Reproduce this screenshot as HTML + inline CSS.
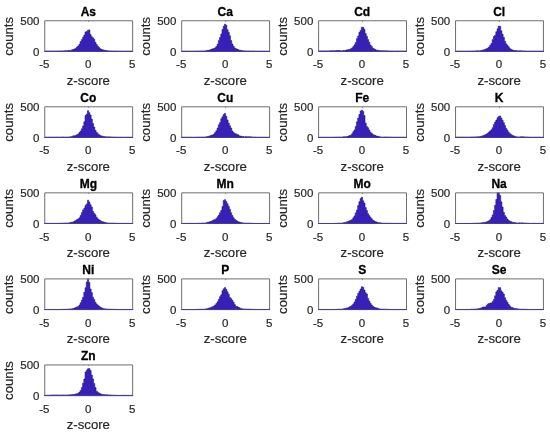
<!DOCTYPE html><html><head><meta charset="utf-8"><style>html,body{margin:0;padding:0;background:#fff;}svg{display:block;will-change:transform;}text{font-family:"Liberation Sans",sans-serif;stroke-width:0.2px;paint-order:stroke;}</style></head><body>
<svg width="550" height="434" viewBox="0 0 550 434">
<rect width="550" height="434" fill="#fff"/>
<g>
<rect width="550" height="434" fill="#fff"/>
<path d="M44.75,51.40 L44.75,51.18 L45.97,51.18 L45.97,51.13 L47.19,51.13 L47.19,51.16 L48.41,51.16 L48.41,51.12 L49.63,51.12 L49.63,51.12 L50.85,51.12 L50.85,51.20 L52.08,51.20 L52.08,51.21 L53.30,51.21 L53.30,51.08 L54.52,51.08 L54.52,51.17 L55.74,51.17 L55.74,51.18 L56.96,51.18 L56.96,51.06 L58.18,51.06 L58.18,51.11 L59.40,51.11 L59.40,50.99 L60.62,50.99 L60.62,51.00 L61.84,51.00 L61.84,50.91 L63.06,50.91 L63.06,50.96 L64.28,50.96 L64.28,50.81 L65.50,50.81 L65.50,50.70 L66.72,50.70 L66.72,50.72 L67.95,50.72 L67.95,50.57 L69.17,50.57 L69.17,50.43 L70.39,50.43 L70.39,50.44 L71.61,50.44 L71.61,49.80 L72.83,49.80 L72.83,49.40 L74.05,49.40 L74.05,48.92 L75.27,48.92 L75.27,48.37 L76.49,48.37 L76.49,47.08 L77.71,47.08 L77.71,46.00 L78.93,46.00 L78.93,44.23 L80.15,44.23 L80.15,41.39 L81.38,41.39 L81.38,39.47 L82.60,39.47 L82.60,37.26 L83.82,37.26 L83.82,35.05 L85.04,35.05 L85.04,31.99 L86.26,31.99 L86.26,31.53 L87.48,31.53 L87.48,30.13 L88.70,30.13 L88.70,29.90 L89.92,29.90 L89.92,34.42 L91.14,34.42 L91.14,36.69 L92.36,36.69 L92.36,37.81 L93.58,37.81 L93.58,39.34 L94.80,39.34 L94.80,42.31 L96.03,42.31 L96.03,44.42 L97.25,44.42 L97.25,46.28 L98.47,46.28 L98.47,47.59 L99.69,47.59 L99.69,48.72 L100.91,48.72 L100.91,49.34 L102.13,49.34 L102.13,49.76 L103.35,49.76 L103.35,50.17 L104.57,50.17 L104.57,50.35 L105.79,50.35 L105.79,50.61 L107.01,50.61 L107.01,50.76 L108.23,50.76 L108.23,50.89 L109.45,50.89 L109.45,50.93 L110.68,50.93 L110.68,51.02 L111.90,51.02 L111.90,51.14 L113.12,51.14 L113.12,51.06 L114.34,51.06 L114.34,51.08 L115.56,51.08 L115.56,51.12 L116.78,51.12 L116.78,51.20 L118.00,51.20 L118.00,51.21 L119.22,51.21 L119.22,51.28 L120.44,51.28 L120.44,51.21 L121.66,51.21 L121.66,51.24 L122.88,51.24 L122.88,51.27 L124.10,51.27 L124.10,51.30 L125.33,51.30 L125.33,51.21 L126.55,51.21 L126.55,51.19 L127.77,51.19 L127.77,51.29 L128.99,51.29 L128.99,51.21 L130.21,51.21 L130.21,51.26 L131.43,51.26 L131.43,51.29 L132.65,51.29 L132.65,51.40 Z" fill="#3720b8" stroke="#1c0c78" stroke-width="0.55" stroke-linejoin="miter"/>
<path d="M44.75,51.40 V20.75 H132.65 V51.40" fill="none" stroke="#6e6e6e" stroke-width="1"/>
<line x1="44.25" y1="51.40" x2="133.15" y2="51.40" stroke="#4a3a94" stroke-width="1"/>
<line x1="88.70" y1="20.75" x2="88.70" y2="21.95" stroke="#6e6e6e" stroke-width="0.8"/>
<text x="88.35" y="15.50" font-size="12.0" font-weight="bold" text-anchor="middle" fill="#000" stroke="#000" style="stroke-width:0.3px">As</text>
<text x="39.45" y="25.10" font-size="11.5" text-anchor="end" fill="#262626" stroke="#262626">500</text>
<text x="39.45" y="55.75" font-size="11.5" text-anchor="end" fill="#262626" stroke="#262626">0</text>
<text x="44.25" y="68.40" font-size="11.5" text-anchor="middle" fill="#262626" stroke="#262626">-5</text>
<text x="88.20" y="68.40" font-size="11.5" text-anchor="middle" fill="#262626" stroke="#262626">0</text>
<text x="132.15" y="68.40" font-size="11.5" text-anchor="middle" fill="#262626" stroke="#262626">5</text>
<text x="88.35" y="84.50" font-size="13.2" text-anchor="middle" fill="#262626" stroke="#262626">z-score</text>
<text transform="translate(12.95,36.32) rotate(-90)" x="0" y="0" font-size="13.2" text-anchor="middle" fill="#262626" stroke="#262626">counts</text>
<path d="M181.68,51.40 L181.68,51.24 L182.90,51.24 L182.90,51.26 L184.12,51.26 L184.12,51.24 L185.34,51.24 L185.34,51.28 L186.56,51.28 L186.56,51.21 L187.78,51.21 L187.78,51.21 L189.00,51.21 L189.00,51.23 L190.23,51.23 L190.23,51.29 L191.45,51.29 L191.45,51.24 L192.67,51.24 L192.67,51.27 L193.89,51.27 L193.89,51.28 L195.11,51.28 L195.11,51.16 L196.33,51.16 L196.33,51.10 L197.55,51.10 L197.55,51.20 L198.77,51.20 L198.77,51.02 L199.99,51.02 L199.99,51.02 L201.21,51.02 L201.21,51.01 L202.43,51.01 L202.43,50.99 L203.66,50.99 L203.66,50.93 L204.88,50.93 L204.88,50.95 L206.10,50.95 L206.10,50.60 L207.32,50.60 L207.32,50.36 L208.54,50.36 L208.54,50.28 L209.76,50.28 L209.76,49.78 L210.98,49.78 L210.98,49.27 L212.20,49.27 L212.20,48.85 L213.42,48.85 L213.42,48.60 L214.64,48.60 L214.64,47.86 L215.86,47.86 L215.86,46.50 L217.08,46.50 L217.08,44.15 L218.31,44.15 L218.31,40.43 L219.53,40.43 L219.53,37.51 L220.75,37.51 L220.75,34.04 L221.97,34.04 L221.97,29.54 L223.19,29.54 L223.19,26.31 L224.41,26.31 L224.41,24.18 L225.63,24.18 L225.63,25.28 L226.85,25.28 L226.85,29.68 L228.07,29.68 L228.07,32.18 L229.29,32.18 L229.29,35.73 L230.51,35.73 L230.51,40.54 L231.73,40.54 L231.73,43.97 L232.96,43.97 L232.96,46.20 L234.18,46.20 L234.18,47.91 L235.40,47.91 L235.40,48.66 L236.62,48.66 L236.62,49.12 L237.84,49.12 L237.84,49.69 L239.06,49.69 L239.06,50.23 L240.28,50.23 L240.28,50.36 L241.50,50.36 L241.50,50.72 L242.72,50.72 L242.72,50.77 L243.94,50.77 L243.94,50.95 L245.16,50.95 L245.16,50.95 L246.38,50.95 L246.38,51.09 L247.61,51.09 L247.61,51.00 L248.83,51.00 L248.83,51.15 L250.05,51.15 L250.05,51.17 L251.27,51.17 L251.27,51.10 L252.49,51.10 L252.49,51.11 L253.71,51.11 L253.71,51.21 L254.93,51.21 L254.93,51.25 L256.15,51.25 L256.15,51.28 L257.37,51.28 L257.37,51.27 L258.59,51.27 L258.59,51.23 L259.81,51.23 L259.81,51.28 L261.03,51.28 L261.03,51.29 L262.25,51.29 L262.25,51.25 L263.48,51.25 L263.48,51.29 L264.70,51.29 L264.70,51.23 L265.92,51.23 L265.92,51.21 L267.14,51.21 L267.14,51.21 L268.36,51.21 L268.36,51.25 L269.58,51.25 L269.58,51.40 Z" fill="#3720b8" stroke="#1c0c78" stroke-width="0.55" stroke-linejoin="miter"/>
<path d="M181.68,51.40 V20.75 H269.58 V51.40" fill="none" stroke="#6e6e6e" stroke-width="1"/>
<line x1="181.18" y1="51.40" x2="270.08" y2="51.40" stroke="#4a3a94" stroke-width="1"/>
<line x1="225.63" y1="20.75" x2="225.63" y2="21.95" stroke="#6e6e6e" stroke-width="0.8"/>
<text x="225.28" y="15.50" font-size="12.0" font-weight="bold" text-anchor="middle" fill="#000" stroke="#000" style="stroke-width:0.3px">Ca</text>
<text x="176.38" y="25.10" font-size="11.5" text-anchor="end" fill="#262626" stroke="#262626">500</text>
<text x="176.38" y="55.75" font-size="11.5" text-anchor="end" fill="#262626" stroke="#262626">0</text>
<text x="181.18" y="68.40" font-size="11.5" text-anchor="middle" fill="#262626" stroke="#262626">-5</text>
<text x="225.13" y="68.40" font-size="11.5" text-anchor="middle" fill="#262626" stroke="#262626">0</text>
<text x="269.08" y="68.40" font-size="11.5" text-anchor="middle" fill="#262626" stroke="#262626">5</text>
<text x="225.28" y="84.50" font-size="13.2" text-anchor="middle" fill="#262626" stroke="#262626">z-score</text>
<text transform="translate(149.88,36.32) rotate(-90)" x="0" y="0" font-size="13.2" text-anchor="middle" fill="#262626" stroke="#262626">counts</text>
<path d="M318.61,51.40 L318.61,51.08 L319.83,51.08 L319.83,51.00 L321.05,51.00 L321.05,50.94 L322.27,50.94 L322.27,51.04 L323.49,51.04 L323.49,50.92 L324.71,50.92 L324.71,50.91 L325.94,50.91 L325.94,50.89 L327.16,50.89 L327.16,50.98 L328.38,50.98 L328.38,50.97 L329.60,50.97 L329.60,50.87 L330.82,50.87 L330.82,50.76 L332.04,50.76 L332.04,50.84 L333.26,50.84 L333.26,50.74 L334.48,50.74 L334.48,50.75 L335.70,50.75 L335.70,50.57 L336.92,50.57 L336.92,50.51 L338.14,50.51 L338.14,50.62 L339.36,50.62 L339.36,50.59 L340.59,50.59 L340.59,50.93 L341.81,50.93 L341.81,50.79 L343.03,50.79 L343.03,50.57 L344.25,50.57 L344.25,50.52 L345.47,50.52 L345.47,50.11 L346.69,50.11 L346.69,49.90 L347.91,49.90 L347.91,49.43 L349.13,49.43 L349.13,49.43 L350.35,49.43 L350.35,48.74 L351.57,48.74 L351.57,47.95 L352.79,47.95 L352.79,46.60 L354.01,46.60 L354.01,44.87 L355.24,44.87 L355.24,42.47 L356.46,42.47 L356.46,38.57 L357.68,38.57 L357.68,36.02 L358.90,36.02 L358.90,32.30 L360.12,32.30 L360.12,30.38 L361.34,30.38 L361.34,27.31 L362.56,27.31 L362.56,27.31 L363.78,27.31 L363.78,29.37 L365.00,29.37 L365.00,33.61 L366.22,33.61 L366.22,36.21 L367.44,36.21 L367.44,39.57 L368.66,39.57 L368.66,42.25 L369.88,42.25 L369.88,45.00 L371.11,45.00 L371.11,46.43 L372.33,46.43 L372.33,48.24 L373.55,48.24 L373.55,48.86 L374.77,48.86 L374.77,49.55 L375.99,49.55 L375.99,50.13 L377.21,50.13 L377.21,50.35 L378.43,50.35 L378.43,50.43 L379.65,50.43 L379.65,50.75 L380.87,50.75 L380.87,50.87 L382.09,50.87 L382.09,50.78 L383.31,50.78 L383.31,50.71 L384.54,50.71 L384.54,50.89 L385.76,50.89 L385.76,50.85 L386.98,50.85 L386.98,50.91 L388.20,50.91 L388.20,50.96 L389.42,50.96 L389.42,51.09 L390.64,51.09 L390.64,51.04 L391.86,51.04 L391.86,51.05 L393.08,51.05 L393.08,51.16 L394.30,51.16 L394.30,51.16 L395.52,51.16 L395.52,51.07 L396.74,51.07 L396.74,51.12 L397.96,51.12 L397.96,51.17 L399.19,51.17 L399.19,51.21 L400.41,51.21 L400.41,51.10 L401.63,51.10 L401.63,51.16 L402.85,51.16 L402.85,51.14 L404.07,51.14 L404.07,51.17 L405.29,51.17 L405.29,51.12 L406.51,51.12 L406.51,51.40 Z" fill="#3720b8" stroke="#1c0c78" stroke-width="0.55" stroke-linejoin="miter"/>
<path d="M318.61,51.40 V20.75 H406.51 V51.40" fill="none" stroke="#6e6e6e" stroke-width="1"/>
<line x1="318.11" y1="51.40" x2="407.01" y2="51.40" stroke="#4a3a94" stroke-width="1"/>
<line x1="362.56" y1="20.75" x2="362.56" y2="21.95" stroke="#6e6e6e" stroke-width="0.8"/>
<text x="362.21" y="15.50" font-size="12.0" font-weight="bold" text-anchor="middle" fill="#000" stroke="#000" style="stroke-width:0.3px">Cd</text>
<text x="313.31" y="25.10" font-size="11.5" text-anchor="end" fill="#262626" stroke="#262626">500</text>
<text x="313.31" y="55.75" font-size="11.5" text-anchor="end" fill="#262626" stroke="#262626">0</text>
<text x="318.11" y="68.40" font-size="11.5" text-anchor="middle" fill="#262626" stroke="#262626">-5</text>
<text x="362.06" y="68.40" font-size="11.5" text-anchor="middle" fill="#262626" stroke="#262626">0</text>
<text x="406.01" y="68.40" font-size="11.5" text-anchor="middle" fill="#262626" stroke="#262626">5</text>
<text x="362.21" y="84.50" font-size="13.2" text-anchor="middle" fill="#262626" stroke="#262626">z-score</text>
<text transform="translate(286.81,36.32) rotate(-90)" x="0" y="0" font-size="13.2" text-anchor="middle" fill="#262626" stroke="#262626">counts</text>
<path d="M455.54,51.40 L455.54,51.22 L456.76,51.22 L456.76,51.21 L457.98,51.21 L457.98,51.28 L459.20,51.28 L459.20,51.19 L460.42,51.19 L460.42,51.28 L461.64,51.28 L461.64,51.23 L462.87,51.23 L462.87,51.29 L464.09,51.29 L464.09,51.22 L465.31,51.22 L465.31,51.29 L466.53,51.29 L466.53,51.22 L467.75,51.22 L467.75,51.22 L468.97,51.22 L468.97,51.19 L470.19,51.19 L470.19,51.19 L471.41,51.19 L471.41,51.08 L472.63,51.08 L472.63,51.01 L473.85,51.01 L473.85,51.11 L475.07,51.11 L475.07,50.99 L476.29,50.99 L476.29,50.86 L477.52,50.86 L477.52,50.87 L478.74,50.87 L478.74,50.88 L479.96,50.88 L479.96,50.72 L481.18,50.72 L481.18,50.23 L482.40,50.23 L482.40,50.20 L483.62,50.20 L483.62,49.66 L484.84,49.66 L484.84,49.15 L486.06,49.15 L486.06,48.85 L487.28,48.85 L487.28,48.09 L488.50,48.09 L488.50,46.90 L489.72,46.90 L489.72,45.26 L490.94,45.26 L490.94,43.45 L492.17,43.45 L492.17,39.64 L493.39,39.64 L493.39,36.60 L494.61,36.60 L494.61,35.14 L495.83,35.14 L495.83,31.70 L497.05,31.70 L497.05,28.85 L498.27,28.85 L498.27,26.08 L499.49,26.08 L499.49,26.42 L500.71,26.42 L500.71,30.74 L501.93,30.74 L501.93,34.26 L503.15,34.26 L503.15,37.30 L504.37,37.30 L504.37,41.19 L505.59,41.19 L505.59,43.73 L506.82,43.73 L506.82,45.32 L508.04,45.32 L508.04,46.82 L509.26,46.82 L509.26,48.58 L510.48,48.58 L510.48,49.19 L511.70,49.19 L511.70,49.92 L512.92,49.92 L512.92,50.27 L514.14,50.27 L514.14,50.50 L515.36,50.50 L515.36,50.60 L516.58,50.60 L516.58,50.68 L517.80,50.68 L517.80,50.97 L519.02,50.97 L519.02,50.83 L520.24,50.83 L520.24,50.78 L521.47,50.78 L521.47,50.88 L522.69,50.88 L522.69,50.97 L523.91,50.97 L523.91,51.08 L525.13,51.08 L525.13,51.06 L526.35,51.06 L526.35,51.16 L527.57,51.16 L527.57,51.15 L528.79,51.15 L528.79,51.20 L530.01,51.20 L530.01,51.26 L531.23,51.26 L531.23,51.21 L532.45,51.21 L532.45,51.26 L533.67,51.26 L533.67,51.25 L534.89,51.25 L534.89,51.21 L536.12,51.21 L536.12,51.28 L537.34,51.28 L537.34,51.28 L538.56,51.28 L538.56,51.24 L539.78,51.24 L539.78,51.25 L541.00,51.25 L541.00,51.20 L542.22,51.20 L542.22,51.28 L543.44,51.28 L543.44,51.40 Z" fill="#3720b8" stroke="#1c0c78" stroke-width="0.55" stroke-linejoin="miter"/>
<path d="M455.54,51.40 V20.75 H543.44 V51.40" fill="none" stroke="#6e6e6e" stroke-width="1"/>
<line x1="455.04" y1="51.40" x2="543.94" y2="51.40" stroke="#4a3a94" stroke-width="1"/>
<line x1="499.49" y1="20.75" x2="499.49" y2="21.95" stroke="#6e6e6e" stroke-width="0.8"/>
<text x="499.14" y="15.50" font-size="12.0" font-weight="bold" text-anchor="middle" fill="#000" stroke="#000" style="stroke-width:0.3px">Cl</text>
<text x="450.24" y="25.10" font-size="11.5" text-anchor="end" fill="#262626" stroke="#262626">500</text>
<text x="450.24" y="55.75" font-size="11.5" text-anchor="end" fill="#262626" stroke="#262626">0</text>
<text x="455.04" y="68.40" font-size="11.5" text-anchor="middle" fill="#262626" stroke="#262626">-5</text>
<text x="498.99" y="68.40" font-size="11.5" text-anchor="middle" fill="#262626" stroke="#262626">0</text>
<text x="542.94" y="68.40" font-size="11.5" text-anchor="middle" fill="#262626" stroke="#262626">5</text>
<text x="499.14" y="84.50" font-size="13.2" text-anchor="middle" fill="#262626" stroke="#262626">z-score</text>
<text transform="translate(423.74,36.32) rotate(-90)" x="0" y="0" font-size="13.2" text-anchor="middle" fill="#262626" stroke="#262626">counts</text>
<path d="M44.75,137.45 L44.75,137.22 L45.97,137.22 L45.97,137.21 L47.19,137.21 L47.19,137.16 L48.41,137.16 L48.41,137.11 L49.63,137.11 L49.63,137.20 L50.85,137.20 L50.85,137.20 L52.08,137.20 L52.08,137.18 L53.30,137.18 L53.30,137.10 L54.52,137.10 L54.52,137.20 L55.74,137.20 L55.74,137.10 L56.96,137.10 L56.96,137.11 L58.18,137.11 L58.18,137.19 L59.40,137.19 L59.40,137.12 L60.62,137.12 L60.62,137.12 L61.84,137.12 L61.84,137.12 L63.06,137.12 L63.06,137.01 L64.28,137.01 L64.28,137.16 L65.50,137.16 L65.50,137.16 L66.72,137.16 L66.72,136.99 L67.95,136.99 L67.95,137.08 L69.17,137.08 L69.17,136.92 L70.39,136.92 L70.39,136.65 L71.61,136.65 L71.61,136.40 L72.83,136.40 L72.83,135.85 L74.05,135.85 L74.05,135.76 L75.27,135.76 L75.27,135.40 L76.49,135.40 L76.49,134.65 L77.71,134.65 L77.71,133.98 L78.93,133.98 L78.93,132.50 L80.15,132.50 L80.15,130.92 L81.38,130.92 L81.38,128.77 L82.60,128.77 L82.60,125.91 L83.82,125.91 L83.82,121.82 L85.04,121.82 L85.04,115.54 L86.26,115.54 L86.26,114.08 L87.48,114.08 L87.48,110.68 L88.70,110.68 L88.70,112.65 L89.92,112.65 L89.92,115.01 L91.14,115.01 L91.14,119.09 L92.36,119.09 L92.36,123.49 L93.58,123.49 L93.58,127.06 L94.80,127.06 L94.80,130.32 L96.03,130.32 L96.03,132.15 L97.25,132.15 L97.25,133.63 L98.47,133.63 L98.47,134.74 L99.69,134.74 L99.69,135.40 L100.91,135.40 L100.91,135.91 L102.13,135.91 L102.13,136.25 L103.35,136.25 L103.35,136.54 L104.57,136.54 L104.57,136.72 L105.79,136.72 L105.79,136.86 L107.01,136.86 L107.01,136.94 L108.23,136.94 L108.23,136.83 L109.45,136.83 L109.45,136.89 L110.68,136.89 L110.68,137.03 L111.90,137.03 L111.90,137.09 L113.12,137.09 L113.12,137.05 L114.34,137.05 L114.34,137.11 L115.56,137.11 L115.56,137.13 L116.78,137.13 L116.78,137.26 L118.00,137.26 L118.00,137.28 L119.22,137.28 L119.22,137.19 L120.44,137.19 L120.44,137.23 L121.66,137.23 L121.66,137.22 L122.88,137.22 L122.88,137.30 L124.10,137.30 L124.10,137.26 L125.33,137.26 L125.33,137.19 L126.55,137.19 L126.55,137.23 L127.77,137.23 L127.77,137.18 L128.99,137.18 L128.99,137.29 L130.21,137.29 L130.21,137.25 L131.43,137.25 L131.43,137.21 L132.65,137.21 L132.65,137.45 Z" fill="#3720b8" stroke="#1c0c78" stroke-width="0.55" stroke-linejoin="miter"/>
<path d="M44.75,137.45 V106.80 H132.65 V137.45" fill="none" stroke="#6e6e6e" stroke-width="1"/>
<line x1="44.25" y1="137.45" x2="133.15" y2="137.45" stroke="#4a3a94" stroke-width="1"/>
<line x1="88.70" y1="106.80" x2="88.70" y2="108.00" stroke="#6e6e6e" stroke-width="0.8"/>
<text x="88.35" y="101.55" font-size="12.0" font-weight="bold" text-anchor="middle" fill="#000" stroke="#000" style="stroke-width:0.3px">Co</text>
<text x="39.45" y="111.15" font-size="11.5" text-anchor="end" fill="#262626" stroke="#262626">500</text>
<text x="39.45" y="141.80" font-size="11.5" text-anchor="end" fill="#262626" stroke="#262626">0</text>
<text x="44.25" y="154.45" font-size="11.5" text-anchor="middle" fill="#262626" stroke="#262626">-5</text>
<text x="88.20" y="154.45" font-size="11.5" text-anchor="middle" fill="#262626" stroke="#262626">0</text>
<text x="132.15" y="154.45" font-size="11.5" text-anchor="middle" fill="#262626" stroke="#262626">5</text>
<text x="88.35" y="170.55" font-size="13.2" text-anchor="middle" fill="#262626" stroke="#262626">z-score</text>
<text transform="translate(12.95,122.36) rotate(-90)" x="0" y="0" font-size="13.2" text-anchor="middle" fill="#262626" stroke="#262626">counts</text>
<path d="M181.68,137.45 L181.68,137.23 L182.90,137.23 L182.90,137.26 L184.12,137.26 L184.12,137.22 L185.34,137.22 L185.34,137.31 L186.56,137.31 L186.56,137.22 L187.78,137.22 L187.78,137.26 L189.00,137.26 L189.00,137.23 L190.23,137.23 L190.23,137.29 L191.45,137.29 L191.45,137.27 L192.67,137.27 L192.67,137.28 L193.89,137.28 L193.89,137.27 L195.11,137.27 L195.11,137.20 L196.33,137.20 L196.33,137.22 L197.55,137.22 L197.55,137.12 L198.77,137.12 L198.77,137.15 L199.99,137.15 L199.99,137.19 L201.21,137.19 L201.21,137.10 L202.43,137.10 L202.43,137.09 L203.66,137.09 L203.66,137.14 L204.88,137.14 L204.88,136.94 L206.10,136.94 L206.10,136.78 L207.32,136.78 L207.32,136.44 L208.54,136.44 L208.54,136.15 L209.76,136.15 L209.76,135.80 L210.98,135.80 L210.98,135.21 L212.20,135.21 L212.20,134.90 L213.42,134.90 L213.42,134.12 L214.64,134.12 L214.64,132.59 L215.86,132.59 L215.86,130.74 L217.08,130.74 L217.08,128.02 L218.31,128.02 L218.31,124.78 L219.53,124.78 L219.53,122.62 L220.75,122.62 L220.75,118.73 L221.97,118.73 L221.97,116.73 L223.19,116.73 L223.19,114.55 L224.41,114.55 L224.41,113.40 L225.63,113.40 L225.63,116.34 L226.85,116.34 L226.85,120.02 L228.07,120.02 L228.07,123.08 L229.29,123.08 L229.29,125.85 L230.51,125.85 L230.51,128.05 L231.73,128.05 L231.73,130.92 L232.96,130.92 L232.96,132.51 L234.18,132.51 L234.18,133.56 L235.40,133.56 L235.40,133.75 L236.62,133.75 L236.62,134.47 L237.84,134.47 L237.84,134.89 L239.06,134.89 L239.06,135.99 L240.28,135.99 L240.28,136.05 L241.50,136.05 L241.50,136.44 L242.72,136.44 L242.72,136.54 L243.94,136.54 L243.94,136.89 L245.16,136.89 L245.16,136.61 L246.38,136.61 L246.38,136.78 L247.61,136.78 L247.61,136.69 L248.83,136.69 L248.83,136.83 L250.05,136.83 L250.05,136.85 L251.27,136.85 L251.27,136.99 L252.49,136.99 L252.49,137.10 L253.71,137.10 L253.71,137.08 L254.93,137.08 L254.93,137.15 L256.15,137.15 L256.15,137.29 L257.37,137.29 L257.37,137.30 L258.59,137.30 L258.59,137.26 L259.81,137.26 L259.81,137.23 L261.03,137.23 L261.03,137.29 L262.25,137.29 L262.25,137.24 L263.48,137.24 L263.48,137.24 L264.70,137.24 L264.70,137.21 L265.92,137.21 L265.92,137.30 L267.14,137.30 L267.14,137.30 L268.36,137.30 L268.36,137.25 L269.58,137.25 L269.58,137.45 Z" fill="#3720b8" stroke="#1c0c78" stroke-width="0.55" stroke-linejoin="miter"/>
<path d="M181.68,137.45 V106.80 H269.58 V137.45" fill="none" stroke="#6e6e6e" stroke-width="1"/>
<line x1="181.18" y1="137.45" x2="270.08" y2="137.45" stroke="#4a3a94" stroke-width="1"/>
<line x1="225.63" y1="106.80" x2="225.63" y2="108.00" stroke="#6e6e6e" stroke-width="0.8"/>
<text x="225.28" y="101.55" font-size="12.0" font-weight="bold" text-anchor="middle" fill="#000" stroke="#000" style="stroke-width:0.3px">Cu</text>
<text x="176.38" y="111.15" font-size="11.5" text-anchor="end" fill="#262626" stroke="#262626">500</text>
<text x="176.38" y="141.80" font-size="11.5" text-anchor="end" fill="#262626" stroke="#262626">0</text>
<text x="181.18" y="154.45" font-size="11.5" text-anchor="middle" fill="#262626" stroke="#262626">-5</text>
<text x="225.13" y="154.45" font-size="11.5" text-anchor="middle" fill="#262626" stroke="#262626">0</text>
<text x="269.08" y="154.45" font-size="11.5" text-anchor="middle" fill="#262626" stroke="#262626">5</text>
<text x="225.28" y="170.55" font-size="13.2" text-anchor="middle" fill="#262626" stroke="#262626">z-score</text>
<text transform="translate(149.88,122.36) rotate(-90)" x="0" y="0" font-size="13.2" text-anchor="middle" fill="#262626" stroke="#262626">counts</text>
<path d="M318.61,137.45 L318.61,137.28 L319.83,137.28 L319.83,137.25 L321.05,137.25 L321.05,137.30 L322.27,137.30 L322.27,137.27 L323.49,137.27 L323.49,137.30 L324.71,137.30 L324.71,137.31 L325.94,137.31 L325.94,137.28 L327.16,137.28 L327.16,137.30 L328.38,137.30 L328.38,137.27 L329.60,137.27 L329.60,137.22 L330.82,137.22 L330.82,137.31 L332.04,137.31 L332.04,137.22 L333.26,137.22 L333.26,137.27 L334.48,137.27 L334.48,137.15 L335.70,137.15 L335.70,137.13 L336.92,137.13 L336.92,137.19 L338.14,137.19 L338.14,137.06 L339.36,137.06 L339.36,137.06 L340.59,137.06 L340.59,137.16 L341.81,137.16 L341.81,137.04 L343.03,137.04 L343.03,136.86 L344.25,136.86 L344.25,136.68 L345.47,136.68 L345.47,136.70 L346.69,136.70 L346.69,136.45 L347.91,136.45 L347.91,136.03 L349.13,136.03 L349.13,135.51 L350.35,135.51 L350.35,135.15 L351.57,135.15 L351.57,133.81 L352.79,133.81 L352.79,131.78 L354.01,131.78 L354.01,129.98 L355.24,129.98 L355.24,126.43 L356.46,126.43 L356.46,121.80 L357.68,121.80 L357.68,118.11 L358.90,118.11 L358.90,114.50 L360.12,114.50 L360.12,110.88 L361.34,110.88 L361.34,110.25 L362.56,110.25 L362.56,111.39 L363.78,111.39 L363.78,115.51 L365.00,115.51 L365.00,123.04 L366.22,123.04 L366.22,126.39 L367.44,126.39 L367.44,127.71 L368.66,127.71 L368.66,129.90 L369.88,129.90 L369.88,132.20 L371.11,132.20 L371.11,133.25 L372.33,133.25 L372.33,134.60 L373.55,134.60 L373.55,134.96 L374.77,134.96 L374.77,135.52 L375.99,135.52 L375.99,136.03 L377.21,136.03 L377.21,136.35 L378.43,136.35 L378.43,136.53 L379.65,136.53 L379.65,136.94 L380.87,136.94 L380.87,137.07 L382.09,137.07 L382.09,137.13 L383.31,137.13 L383.31,137.07 L384.54,137.07 L384.54,136.97 L385.76,136.97 L385.76,137.01 L386.98,137.01 L386.98,137.12 L388.20,137.12 L388.20,137.02 L389.42,137.02 L389.42,137.10 L390.64,137.10 L390.64,137.17 L391.86,137.17 L391.86,137.26 L393.08,137.26 L393.08,137.27 L394.30,137.27 L394.30,137.29 L395.52,137.29 L395.52,137.23 L396.74,137.23 L396.74,137.31 L397.96,137.31 L397.96,137.19 L399.19,137.19 L399.19,137.30 L400.41,137.30 L400.41,137.23 L401.63,137.23 L401.63,137.24 L402.85,137.24 L402.85,137.27 L404.07,137.27 L404.07,137.28 L405.29,137.28 L405.29,137.26 L406.51,137.26 L406.51,137.45 Z" fill="#3720b8" stroke="#1c0c78" stroke-width="0.55" stroke-linejoin="miter"/>
<path d="M318.61,137.45 V106.80 H406.51 V137.45" fill="none" stroke="#6e6e6e" stroke-width="1"/>
<line x1="318.11" y1="137.45" x2="407.01" y2="137.45" stroke="#4a3a94" stroke-width="1"/>
<line x1="362.56" y1="106.80" x2="362.56" y2="108.00" stroke="#6e6e6e" stroke-width="0.8"/>
<text x="362.21" y="101.55" font-size="12.0" font-weight="bold" text-anchor="middle" fill="#000" stroke="#000" style="stroke-width:0.3px">Fe</text>
<text x="313.31" y="111.15" font-size="11.5" text-anchor="end" fill="#262626" stroke="#262626">500</text>
<text x="313.31" y="141.80" font-size="11.5" text-anchor="end" fill="#262626" stroke="#262626">0</text>
<text x="318.11" y="154.45" font-size="11.5" text-anchor="middle" fill="#262626" stroke="#262626">-5</text>
<text x="362.06" y="154.45" font-size="11.5" text-anchor="middle" fill="#262626" stroke="#262626">0</text>
<text x="406.01" y="154.45" font-size="11.5" text-anchor="middle" fill="#262626" stroke="#262626">5</text>
<text x="362.21" y="170.55" font-size="13.2" text-anchor="middle" fill="#262626" stroke="#262626">z-score</text>
<text transform="translate(286.81,122.36) rotate(-90)" x="0" y="0" font-size="13.2" text-anchor="middle" fill="#262626" stroke="#262626">counts</text>
<path d="M455.54,137.45 L455.54,137.06 L456.76,137.06 L456.76,137.22 L457.98,137.22 L457.98,137.10 L459.20,137.10 L459.20,137.14 L460.42,137.14 L460.42,137.07 L461.64,137.07 L461.64,137.16 L462.87,137.16 L462.87,137.07 L464.09,137.07 L464.09,137.20 L465.31,137.20 L465.31,137.06 L466.53,137.06 L466.53,137.15 L467.75,137.15 L467.75,137.19 L468.97,137.19 L468.97,137.14 L470.19,137.14 L470.19,137.02 L471.41,137.02 L471.41,137.08 L472.63,137.08 L472.63,136.95 L473.85,136.95 L473.85,136.98 L475.07,136.98 L475.07,136.91 L476.29,136.91 L476.29,136.85 L477.52,136.85 L477.52,136.80 L478.74,136.80 L478.74,136.76 L479.96,136.76 L479.96,136.41 L481.18,136.41 L481.18,136.21 L482.40,136.21 L482.40,135.70 L483.62,135.70 L483.62,135.21 L484.84,135.21 L484.84,134.73 L486.06,134.73 L486.06,133.89 L487.28,133.89 L487.28,133.24 L488.50,133.24 L488.50,132.12 L489.72,132.12 L489.72,130.89 L490.94,130.89 L490.94,129.67 L492.17,129.67 L492.17,127.69 L493.39,127.69 L493.39,124.51 L494.61,124.51 L494.61,122.05 L495.83,122.05 L495.83,120.04 L497.05,120.04 L497.05,117.71 L498.27,117.71 L498.27,116.45 L499.49,116.45 L499.49,115.90 L500.71,115.90 L500.71,117.99 L501.93,117.99 L501.93,120.23 L503.15,120.23 L503.15,122.67 L504.37,122.67 L504.37,125.52 L505.59,125.52 L505.59,128.44 L506.82,128.44 L506.82,130.20 L508.04,130.20 L508.04,132.14 L509.26,132.14 L509.26,133.41 L510.48,133.41 L510.48,134.58 L511.70,134.58 L511.70,135.28 L512.92,135.28 L512.92,135.86 L514.14,135.86 L514.14,136.32 L515.36,136.32 L515.36,136.63 L516.58,136.63 L516.58,136.90 L517.80,136.90 L517.80,137.02 L519.02,137.02 L519.02,136.98 L520.24,136.98 L520.24,136.82 L521.47,136.82 L521.47,136.80 L522.69,136.80 L522.69,136.85 L523.91,136.85 L523.91,137.05 L525.13,137.05 L525.13,136.95 L526.35,136.95 L526.35,137.03 L527.57,137.03 L527.57,137.11 L528.79,137.11 L528.79,137.22 L530.01,137.22 L530.01,137.19 L531.23,137.19 L531.23,137.21 L532.45,137.21 L532.45,137.28 L533.67,137.28 L533.67,137.22 L534.89,137.22 L534.89,137.20 L536.12,137.20 L536.12,137.21 L537.34,137.21 L537.34,137.19 L538.56,137.19 L538.56,137.24 L539.78,137.24 L539.78,137.22 L541.00,137.22 L541.00,137.30 L542.22,137.30 L542.22,137.23 L543.44,137.23 L543.44,137.45 Z" fill="#3720b8" stroke="#1c0c78" stroke-width="0.55" stroke-linejoin="miter"/>
<path d="M455.54,137.45 V106.80 H543.44 V137.45" fill="none" stroke="#6e6e6e" stroke-width="1"/>
<line x1="455.04" y1="137.45" x2="543.94" y2="137.45" stroke="#4a3a94" stroke-width="1"/>
<line x1="499.49" y1="106.80" x2="499.49" y2="108.00" stroke="#6e6e6e" stroke-width="0.8"/>
<text x="499.14" y="101.55" font-size="12.0" font-weight="bold" text-anchor="middle" fill="#000" stroke="#000" style="stroke-width:0.3px">K</text>
<text x="450.24" y="111.15" font-size="11.5" text-anchor="end" fill="#262626" stroke="#262626">500</text>
<text x="450.24" y="141.80" font-size="11.5" text-anchor="end" fill="#262626" stroke="#262626">0</text>
<text x="455.04" y="154.45" font-size="11.5" text-anchor="middle" fill="#262626" stroke="#262626">-5</text>
<text x="498.99" y="154.45" font-size="11.5" text-anchor="middle" fill="#262626" stroke="#262626">0</text>
<text x="542.94" y="154.45" font-size="11.5" text-anchor="middle" fill="#262626" stroke="#262626">5</text>
<text x="499.14" y="170.55" font-size="13.2" text-anchor="middle" fill="#262626" stroke="#262626">z-score</text>
<text transform="translate(423.74,122.36) rotate(-90)" x="0" y="0" font-size="13.2" text-anchor="middle" fill="#262626" stroke="#262626">counts</text>
<path d="M44.75,223.50 L44.75,223.39 L45.97,223.39 L45.97,223.31 L47.19,223.31 L47.19,223.31 L48.41,223.31 L48.41,223.41 L49.63,223.41 L49.63,223.32 L50.85,223.32 L50.85,223.34 L52.08,223.34 L52.08,223.34 L53.30,223.34 L53.30,223.41 L54.52,223.41 L54.52,223.32 L55.74,223.32 L55.74,223.37 L56.96,223.37 L56.96,223.32 L58.18,223.32 L58.18,223.33 L59.40,223.33 L59.40,223.25 L60.62,223.25 L60.62,223.20 L61.84,223.20 L61.84,223.22 L63.06,223.22 L63.06,223.12 L64.28,223.12 L64.28,223.01 L65.50,223.01 L65.50,222.98 L66.72,222.98 L66.72,222.96 L67.95,222.96 L67.95,223.06 L69.17,223.06 L69.17,222.73 L70.39,222.73 L70.39,222.35 L71.61,222.35 L71.61,222.15 L72.83,222.15 L72.83,221.90 L74.05,221.90 L74.05,221.07 L75.27,221.07 L75.27,220.54 L76.49,220.54 L76.49,219.57 L77.71,219.57 L77.71,218.95 L78.93,218.95 L78.93,217.84 L80.15,217.84 L80.15,215.52 L81.38,215.52 L81.38,212.49 L82.60,212.49 L82.60,209.95 L83.82,209.95 L83.82,208.13 L85.04,208.13 L85.04,205.43 L86.26,205.43 L86.26,203.89 L87.48,203.89 L87.48,200.20 L88.70,200.20 L88.70,202.04 L89.92,202.04 L89.92,204.68 L91.14,204.68 L91.14,207.01 L92.36,207.01 L92.36,211.31 L93.58,211.31 L93.58,213.25 L94.80,213.25 L94.80,214.87 L96.03,214.87 L96.03,217.31 L97.25,217.31 L97.25,218.86 L98.47,218.86 L98.47,219.85 L99.69,219.85 L99.69,220.47 L100.91,220.47 L100.91,221.47 L102.13,221.47 L102.13,221.72 L103.35,221.72 L103.35,222.10 L104.57,222.10 L104.57,222.48 L105.79,222.48 L105.79,222.79 L107.01,222.79 L107.01,222.96 L108.23,222.96 L108.23,222.99 L109.45,222.99 L109.45,223.10 L110.68,223.10 L110.68,223.11 L111.90,223.11 L111.90,223.11 L113.12,223.11 L113.12,223.03 L114.34,223.03 L114.34,223.16 L115.56,223.16 L115.56,223.19 L116.78,223.19 L116.78,223.26 L118.00,223.26 L118.00,223.34 L119.22,223.34 L119.22,223.34 L120.44,223.34 L120.44,223.36 L121.66,223.36 L121.66,223.36 L122.88,223.36 L122.88,223.33 L124.10,223.33 L124.10,223.37 L125.33,223.37 L125.33,223.41 L126.55,223.41 L126.55,223.31 L127.77,223.31 L127.77,223.37 L128.99,223.37 L128.99,223.37 L130.21,223.37 L130.21,223.40 L131.43,223.40 L131.43,223.35 L132.65,223.35 L132.65,223.50 Z" fill="#3720b8" stroke="#1c0c78" stroke-width="0.55" stroke-linejoin="miter"/>
<path d="M44.75,223.50 V192.85 H132.65 V223.50" fill="none" stroke="#6e6e6e" stroke-width="1"/>
<line x1="44.25" y1="223.50" x2="133.15" y2="223.50" stroke="#4a3a94" stroke-width="1"/>
<line x1="88.70" y1="192.85" x2="88.70" y2="194.05" stroke="#6e6e6e" stroke-width="0.8"/>
<text x="88.35" y="187.60" font-size="12.0" font-weight="bold" text-anchor="middle" fill="#000" stroke="#000" style="stroke-width:0.3px">Mg</text>
<text x="39.45" y="197.20" font-size="11.5" text-anchor="end" fill="#262626" stroke="#262626">500</text>
<text x="39.45" y="227.85" font-size="11.5" text-anchor="end" fill="#262626" stroke="#262626">0</text>
<text x="44.25" y="240.50" font-size="11.5" text-anchor="middle" fill="#262626" stroke="#262626">-5</text>
<text x="88.20" y="240.50" font-size="11.5" text-anchor="middle" fill="#262626" stroke="#262626">0</text>
<text x="132.15" y="240.50" font-size="11.5" text-anchor="middle" fill="#262626" stroke="#262626">5</text>
<text x="88.35" y="256.60" font-size="13.2" text-anchor="middle" fill="#262626" stroke="#262626">z-score</text>
<text transform="translate(12.95,208.42) rotate(-90)" x="0" y="0" font-size="13.2" text-anchor="middle" fill="#262626" stroke="#262626">counts</text>
<path d="M181.68,223.50 L181.68,223.41 L182.90,223.41 L182.90,223.37 L184.12,223.37 L184.12,223.39 L185.34,223.39 L185.34,223.37 L186.56,223.37 L186.56,223.39 L187.78,223.39 L187.78,223.32 L189.00,223.32 L189.00,223.35 L190.23,223.35 L190.23,223.33 L191.45,223.33 L191.45,223.31 L192.67,223.31 L192.67,223.36 L193.89,223.36 L193.89,223.36 L195.11,223.36 L195.11,223.38 L196.33,223.38 L196.33,223.25 L197.55,223.25 L197.55,223.31 L198.77,223.31 L198.77,223.22 L199.99,223.22 L199.99,223.21 L201.21,223.21 L201.21,223.06 L202.43,223.06 L202.43,223.07 L203.66,223.07 L203.66,223.04 L204.88,223.04 L204.88,223.06 L206.10,223.06 L206.10,222.65 L207.32,222.65 L207.32,222.18 L208.54,222.18 L208.54,222.01 L209.76,222.01 L209.76,221.44 L210.98,221.44 L210.98,221.13 L212.20,221.13 L212.20,220.51 L213.42,220.51 L213.42,219.74 L214.64,219.74 L214.64,219.40 L215.86,219.40 L215.86,218.47 L217.08,218.47 L217.08,216.87 L218.31,216.87 L218.31,215.04 L219.53,215.04 L219.53,212.64 L220.75,212.64 L220.75,210.32 L221.97,210.32 L221.97,206.52 L223.19,206.52 L223.19,200.43 L224.41,200.43 L224.41,199.63 L225.63,199.63 L225.63,201.43 L226.85,201.43 L226.85,203.79 L228.07,203.79 L228.07,206.20 L229.29,206.20 L229.29,209.25 L230.51,209.25 L230.51,212.68 L231.73,212.68 L231.73,215.53 L232.96,215.53 L232.96,217.67 L234.18,217.67 L234.18,219.29 L235.40,219.29 L235.40,220.34 L236.62,220.34 L236.62,221.08 L237.84,221.08 L237.84,221.88 L239.06,221.88 L239.06,222.01 L240.28,222.01 L240.28,222.56 L241.50,222.56 L241.50,222.80 L242.72,222.80 L242.72,222.97 L243.94,222.97 L243.94,223.10 L245.16,223.10 L245.16,223.03 L246.38,223.03 L246.38,223.06 L247.61,223.06 L247.61,223.24 L248.83,223.24 L248.83,223.15 L250.05,223.15 L250.05,223.21 L251.27,223.21 L251.27,223.26 L252.49,223.26 L252.49,223.38 L253.71,223.38 L253.71,223.37 L254.93,223.37 L254.93,223.45 L256.15,223.45 L256.15,223.47 L257.37,223.47 L257.37,223.49 L258.59,223.49 L258.59,223.46 L259.81,223.46 L259.81,223.48 L261.03,223.48 L261.03,223.47 L262.25,223.47 L262.25,223.43 L263.48,223.43 L263.48,223.46 L264.70,223.46 L264.70,223.43 L265.92,223.43 L265.92,223.45 L267.14,223.45 L267.14,223.47 L268.36,223.47 L268.36,223.45 L269.58,223.45 L269.58,223.50 Z" fill="#3720b8" stroke="#1c0c78" stroke-width="0.55" stroke-linejoin="miter"/>
<path d="M181.68,223.50 V192.85 H269.58 V223.50" fill="none" stroke="#6e6e6e" stroke-width="1"/>
<line x1="181.18" y1="223.50" x2="270.08" y2="223.50" stroke="#4a3a94" stroke-width="1"/>
<line x1="225.63" y1="192.85" x2="225.63" y2="194.05" stroke="#6e6e6e" stroke-width="0.8"/>
<text x="225.28" y="187.60" font-size="12.0" font-weight="bold" text-anchor="middle" fill="#000" stroke="#000" style="stroke-width:0.3px">Mn</text>
<text x="176.38" y="197.20" font-size="11.5" text-anchor="end" fill="#262626" stroke="#262626">500</text>
<text x="176.38" y="227.85" font-size="11.5" text-anchor="end" fill="#262626" stroke="#262626">0</text>
<text x="181.18" y="240.50" font-size="11.5" text-anchor="middle" fill="#262626" stroke="#262626">-5</text>
<text x="225.13" y="240.50" font-size="11.5" text-anchor="middle" fill="#262626" stroke="#262626">0</text>
<text x="269.08" y="240.50" font-size="11.5" text-anchor="middle" fill="#262626" stroke="#262626">5</text>
<text x="225.28" y="256.60" font-size="13.2" text-anchor="middle" fill="#262626" stroke="#262626">z-score</text>
<text transform="translate(149.88,208.42) rotate(-90)" x="0" y="0" font-size="13.2" text-anchor="middle" fill="#262626" stroke="#262626">counts</text>
<path d="M318.61,223.50 L318.61,223.46 L319.83,223.46 L319.83,223.44 L321.05,223.44 L321.05,223.44 L322.27,223.44 L322.27,223.45 L323.49,223.45 L323.49,223.45 L324.71,223.45 L324.71,223.45 L325.94,223.45 L325.94,223.46 L327.16,223.46 L327.16,223.48 L328.38,223.48 L328.38,223.48 L329.60,223.48 L329.60,223.48 L330.82,223.48 L330.82,223.45 L332.04,223.45 L332.04,223.48 L333.26,223.48 L333.26,223.41 L334.48,223.41 L334.48,223.35 L335.70,223.35 L335.70,223.29 L336.92,223.29 L336.92,223.26 L338.14,223.26 L338.14,223.14 L339.36,223.14 L339.36,223.07 L340.59,223.07 L340.59,223.08 L341.81,223.08 L341.81,223.12 L343.03,223.12 L343.03,222.75 L344.25,222.75 L344.25,222.43 L345.47,222.43 L345.47,222.22 L346.69,222.22 L346.69,221.72 L347.91,221.72 L347.91,221.31 L349.13,221.31 L349.13,220.74 L350.35,220.74 L350.35,220.34 L351.57,220.34 L351.57,219.59 L352.79,219.59 L352.79,217.75 L354.01,217.75 L354.01,215.88 L355.24,215.88 L355.24,212.86 L356.46,212.86 L356.46,210.00 L357.68,210.00 L357.68,205.52 L358.90,205.52 L358.90,201.67 L360.12,201.67 L360.12,198.49 L361.34,198.49 L361.34,197.29 L362.56,197.29 L362.56,200.84 L363.78,200.84 L363.78,203.02 L365.00,203.02 L365.00,207.46 L366.22,207.46 L366.22,210.41 L367.44,210.41 L367.44,213.63 L368.66,213.63 L368.66,215.62 L369.88,215.62 L369.88,217.29 L371.11,217.29 L371.11,218.79 L372.33,218.79 L372.33,220.19 L373.55,220.19 L373.55,220.86 L374.77,220.86 L374.77,221.68 L375.99,221.68 L375.99,221.95 L377.21,221.95 L377.21,222.47 L378.43,222.47 L378.43,222.71 L379.65,222.71 L379.65,222.77 L380.87,222.77 L380.87,223.02 L382.09,223.02 L382.09,223.17 L383.31,223.17 L383.31,223.08 L384.54,223.08 L384.54,223.22 L385.76,223.22 L385.76,223.20 L386.98,223.20 L386.98,223.24 L388.20,223.24 L388.20,223.25 L389.42,223.25 L389.42,223.33 L390.64,223.33 L390.64,223.26 L391.86,223.26 L391.86,223.31 L393.08,223.31 L393.08,223.35 L394.30,223.35 L394.30,223.38 L395.52,223.38 L395.52,223.37 L396.74,223.37 L396.74,223.39 L397.96,223.39 L397.96,223.37 L399.19,223.37 L399.19,223.36 L400.41,223.36 L400.41,223.33 L401.63,223.33 L401.63,223.40 L402.85,223.40 L402.85,223.31 L404.07,223.31 L404.07,223.31 L405.29,223.31 L405.29,223.36 L406.51,223.36 L406.51,223.50 Z" fill="#3720b8" stroke="#1c0c78" stroke-width="0.55" stroke-linejoin="miter"/>
<path d="M318.61,223.50 V192.85 H406.51 V223.50" fill="none" stroke="#6e6e6e" stroke-width="1"/>
<line x1="318.11" y1="223.50" x2="407.01" y2="223.50" stroke="#4a3a94" stroke-width="1"/>
<line x1="362.56" y1="192.85" x2="362.56" y2="194.05" stroke="#6e6e6e" stroke-width="0.8"/>
<text x="362.21" y="187.60" font-size="12.0" font-weight="bold" text-anchor="middle" fill="#000" stroke="#000" style="stroke-width:0.3px">Mo</text>
<text x="313.31" y="197.20" font-size="11.5" text-anchor="end" fill="#262626" stroke="#262626">500</text>
<text x="313.31" y="227.85" font-size="11.5" text-anchor="end" fill="#262626" stroke="#262626">0</text>
<text x="318.11" y="240.50" font-size="11.5" text-anchor="middle" fill="#262626" stroke="#262626">-5</text>
<text x="362.06" y="240.50" font-size="11.5" text-anchor="middle" fill="#262626" stroke="#262626">0</text>
<text x="406.01" y="240.50" font-size="11.5" text-anchor="middle" fill="#262626" stroke="#262626">5</text>
<text x="362.21" y="256.60" font-size="13.2" text-anchor="middle" fill="#262626" stroke="#262626">z-score</text>
<text transform="translate(286.81,208.42) rotate(-90)" x="0" y="0" font-size="13.2" text-anchor="middle" fill="#262626" stroke="#262626">counts</text>
<path d="M455.54,223.50 L455.54,223.46 L456.76,223.46 L456.76,223.44 L457.98,223.44 L457.98,223.43 L459.20,223.43 L459.20,223.42 L460.42,223.42 L460.42,223.46 L461.64,223.46 L461.64,223.45 L462.87,223.45 L462.87,223.46 L464.09,223.46 L464.09,223.46 L465.31,223.46 L465.31,223.44 L466.53,223.44 L466.53,223.44 L467.75,223.44 L467.75,223.45 L468.97,223.45 L468.97,223.42 L470.19,223.42 L470.19,223.44 L471.41,223.44 L471.41,223.38 L472.63,223.38 L472.63,223.24 L473.85,223.24 L473.85,223.24 L475.07,223.24 L475.07,223.26 L476.29,223.26 L476.29,223.13 L477.52,223.13 L477.52,223.02 L478.74,223.02 L478.74,223.08 L479.96,223.08 L479.96,222.94 L481.18,222.94 L481.18,222.87 L482.40,222.87 L482.40,222.49 L483.62,222.49 L483.62,222.47 L484.84,222.47 L484.84,222.22 L486.06,222.22 L486.06,221.94 L487.28,221.94 L487.28,221.34 L488.50,221.34 L488.50,220.80 L489.72,220.80 L489.72,219.67 L490.94,219.67 L490.94,217.57 L492.17,217.57 L492.17,214.91 L493.39,214.91 L493.39,210.50 L494.61,210.50 L494.61,205.29 L495.83,205.29 L495.83,199.46 L497.05,199.46 L497.05,192.85 L498.27,192.85 L498.27,192.85 L499.49,192.85 L499.49,195.49 L500.71,195.49 L500.71,201.76 L501.93,201.76 L501.93,207.06 L503.15,207.06 L503.15,212.29 L504.37,212.29 L504.37,215.47 L505.59,215.47 L505.59,217.11 L506.82,217.11 L506.82,218.95 L508.04,218.95 L508.04,220.43 L509.26,220.43 L509.26,220.96 L510.48,220.96 L510.48,221.63 L511.70,221.63 L511.70,222.17 L512.92,222.17 L512.92,222.46 L514.14,222.46 L514.14,222.54 L515.36,222.54 L515.36,222.86 L516.58,222.86 L516.58,222.98 L517.80,222.98 L517.80,222.90 L519.02,222.90 L519.02,222.85 L520.24,222.85 L520.24,223.02 L521.47,223.02 L521.47,222.86 L522.69,222.86 L522.69,222.93 L523.91,222.93 L523.91,223.03 L525.13,223.03 L525.13,223.08 L526.35,223.08 L526.35,223.14 L527.57,223.14 L527.57,223.22 L528.79,223.22 L528.79,223.34 L530.01,223.34 L530.01,223.40 L531.23,223.40 L531.23,223.37 L532.45,223.37 L532.45,223.34 L533.67,223.34 L533.67,223.32 L534.89,223.32 L534.89,223.33 L536.12,223.33 L536.12,223.41 L537.34,223.41 L537.34,223.40 L538.56,223.40 L538.56,223.37 L539.78,223.37 L539.78,223.39 L541.00,223.39 L541.00,223.38 L542.22,223.38 L542.22,223.33 L543.44,223.33 L543.44,223.50 Z" fill="#3720b8" stroke="#1c0c78" stroke-width="0.55" stroke-linejoin="miter"/>
<path d="M455.54,223.50 V192.85 H543.44 V223.50" fill="none" stroke="#6e6e6e" stroke-width="1"/>
<line x1="455.04" y1="223.50" x2="543.94" y2="223.50" stroke="#4a3a94" stroke-width="1"/>
<line x1="499.49" y1="192.85" x2="499.49" y2="194.05" stroke="#6e6e6e" stroke-width="0.8"/>
<text x="499.14" y="187.60" font-size="12.0" font-weight="bold" text-anchor="middle" fill="#000" stroke="#000" style="stroke-width:0.3px">Na</text>
<text x="450.24" y="197.20" font-size="11.5" text-anchor="end" fill="#262626" stroke="#262626">500</text>
<text x="450.24" y="227.85" font-size="11.5" text-anchor="end" fill="#262626" stroke="#262626">0</text>
<text x="455.04" y="240.50" font-size="11.5" text-anchor="middle" fill="#262626" stroke="#262626">-5</text>
<text x="498.99" y="240.50" font-size="11.5" text-anchor="middle" fill="#262626" stroke="#262626">0</text>
<text x="542.94" y="240.50" font-size="11.5" text-anchor="middle" fill="#262626" stroke="#262626">5</text>
<text x="499.14" y="256.60" font-size="13.2" text-anchor="middle" fill="#262626" stroke="#262626">z-score</text>
<text transform="translate(423.74,208.42) rotate(-90)" x="0" y="0" font-size="13.2" text-anchor="middle" fill="#262626" stroke="#262626">counts</text>
<path d="M44.75,309.55 L44.75,309.52 L45.97,309.52 L45.97,309.52 L47.19,309.52 L47.19,309.48 L48.41,309.48 L48.41,309.51 L49.63,309.51 L49.63,309.53 L50.85,309.53 L50.85,309.53 L52.08,309.53 L52.08,309.52 L53.30,309.52 L53.30,309.54 L54.52,309.54 L54.52,309.53 L55.74,309.53 L55.74,309.55 L56.96,309.55 L56.96,309.55 L58.18,309.55 L58.18,309.53 L59.40,309.53 L59.40,309.46 L60.62,309.46 L60.62,309.41 L61.84,309.41 L61.84,309.40 L63.06,309.40 L63.06,309.30 L64.28,309.30 L64.28,309.38 L65.50,309.38 L65.50,309.24 L66.72,309.24 L66.72,309.27 L67.95,309.27 L67.95,309.16 L69.17,309.16 L69.17,308.92 L70.39,308.92 L70.39,308.89 L71.61,308.89 L71.61,308.72 L72.83,308.72 L72.83,308.41 L74.05,308.41 L74.05,308.06 L75.27,308.06 L75.27,307.60 L76.49,307.60 L76.49,306.91 L77.71,306.91 L77.71,306.46 L78.93,306.46 L78.93,305.06 L80.15,305.06 L80.15,302.81 L81.38,302.81 L81.38,300.06 L82.60,300.06 L82.60,297.27 L83.82,297.27 L83.82,292.31 L85.04,292.31 L85.04,287.72 L86.26,287.72 L86.26,282.06 L87.48,282.06 L87.48,278.90 L88.70,278.90 L88.70,282.42 L89.92,282.42 L89.92,288.91 L91.14,288.91 L91.14,292.41 L92.36,292.41 L92.36,297.13 L93.58,297.13 L93.58,299.55 L94.80,299.55 L94.80,302.20 L96.03,302.20 L96.03,303.91 L97.25,303.91 L97.25,305.26 L98.47,305.26 L98.47,306.11 L99.69,306.11 L99.69,307.21 L100.91,307.21 L100.91,307.83 L102.13,307.83 L102.13,308.26 L103.35,308.26 L103.35,308.85 L104.57,308.85 L104.57,308.85 L105.79,308.85 L105.79,309.06 L107.01,309.06 L107.01,309.04 L108.23,309.04 L108.23,309.22 L109.45,309.22 L109.45,309.10 L110.68,309.10 L110.68,309.28 L111.90,309.28 L111.90,309.29 L113.12,309.29 L113.12,309.40 L114.34,309.40 L114.34,309.38 L115.56,309.38 L115.56,309.41 L116.78,309.41 L116.78,309.45 L118.00,309.45 L118.00,309.55 L119.22,309.55 L119.22,309.55 L120.44,309.55 L120.44,309.54 L121.66,309.54 L121.66,309.54 L122.88,309.54 L122.88,309.54 L124.10,309.54 L124.10,309.53 L125.33,309.53 L125.33,309.51 L126.55,309.51 L126.55,309.53 L127.77,309.53 L127.77,309.48 L128.99,309.48 L128.99,309.53 L130.21,309.53 L130.21,309.51 L131.43,309.51 L131.43,309.48 L132.65,309.48 L132.65,309.55 Z" fill="#3720b8" stroke="#1c0c78" stroke-width="0.55" stroke-linejoin="miter"/>
<path d="M44.75,309.55 V278.90 H132.65 V309.55" fill="none" stroke="#6e6e6e" stroke-width="1"/>
<line x1="44.25" y1="309.55" x2="133.15" y2="309.55" stroke="#4a3a94" stroke-width="1"/>
<line x1="88.70" y1="278.90" x2="88.70" y2="280.10" stroke="#6e6e6e" stroke-width="0.8"/>
<text x="88.35" y="273.65" font-size="12.0" font-weight="bold" text-anchor="middle" fill="#000" stroke="#000" style="stroke-width:0.3px">Ni</text>
<text x="39.45" y="283.25" font-size="11.5" text-anchor="end" fill="#262626" stroke="#262626">500</text>
<text x="39.45" y="313.90" font-size="11.5" text-anchor="end" fill="#262626" stroke="#262626">0</text>
<text x="44.25" y="326.55" font-size="11.5" text-anchor="middle" fill="#262626" stroke="#262626">-5</text>
<text x="88.20" y="326.55" font-size="11.5" text-anchor="middle" fill="#262626" stroke="#262626">0</text>
<text x="132.15" y="326.55" font-size="11.5" text-anchor="middle" fill="#262626" stroke="#262626">5</text>
<text x="88.35" y="342.65" font-size="13.2" text-anchor="middle" fill="#262626" stroke="#262626">z-score</text>
<text transform="translate(12.95,294.46) rotate(-90)" x="0" y="0" font-size="13.2" text-anchor="middle" fill="#262626" stroke="#262626">counts</text>
<path d="M181.68,309.55 L181.68,309.49 L182.90,309.49 L182.90,309.52 L184.12,309.52 L184.12,309.52 L185.34,309.52 L185.34,309.51 L186.56,309.51 L186.56,309.54 L187.78,309.54 L187.78,309.52 L189.00,309.52 L189.00,309.50 L190.23,309.50 L190.23,309.53 L191.45,309.53 L191.45,309.52 L192.67,309.52 L192.67,309.53 L193.89,309.53 L193.89,309.55 L195.11,309.55 L195.11,309.54 L196.33,309.54 L196.33,309.47 L197.55,309.47 L197.55,309.35 L198.77,309.35 L198.77,309.35 L199.99,309.35 L199.99,309.25 L201.21,309.25 L201.21,309.21 L202.43,309.21 L202.43,309.26 L203.66,309.26 L203.66,309.12 L204.88,309.12 L204.88,309.04 L206.10,309.04 L206.10,308.87 L207.32,308.87 L207.32,308.55 L208.54,308.55 L208.54,307.98 L209.76,307.98 L209.76,307.72 L210.98,307.72 L210.98,307.13 L212.20,307.13 L212.20,306.64 L213.42,306.64 L213.42,306.07 L214.64,306.07 L214.64,304.90 L215.86,304.90 L215.86,303.44 L217.08,303.44 L217.08,301.82 L218.31,301.82 L218.31,299.37 L219.53,299.37 L219.53,296.68 L220.75,296.68 L220.75,294.80 L221.97,294.80 L221.97,290.82 L223.19,290.82 L223.19,288.84 L224.41,288.84 L224.41,287.61 L225.63,287.61 L225.63,289.36 L226.85,289.36 L226.85,291.85 L228.07,291.85 L228.07,294.15 L229.29,294.15 L229.29,297.41 L230.51,297.41 L230.51,298.45 L231.73,298.45 L231.73,300.28 L232.96,300.28 L232.96,302.22 L234.18,302.22 L234.18,304.59 L235.40,304.59 L235.40,306.32 L236.62,306.32 L236.62,306.53 L237.84,306.53 L237.84,307.37 L239.06,307.37 L239.06,307.84 L240.28,307.84 L240.28,308.53 L241.50,308.53 L241.50,308.65 L242.72,308.65 L242.72,308.96 L243.94,308.96 L243.94,308.97 L245.16,308.97 L245.16,309.02 L246.38,309.02 L246.38,309.17 L247.61,309.17 L247.61,309.10 L248.83,309.10 L248.83,309.15 L250.05,309.15 L250.05,309.30 L251.27,309.30 L251.27,309.24 L252.49,309.24 L252.49,309.40 L253.71,309.40 L253.71,309.39 L254.93,309.39 L254.93,309.44 L256.15,309.44 L256.15,309.43 L257.37,309.43 L257.37,309.50 L258.59,309.50 L258.59,309.49 L259.81,309.49 L259.81,309.46 L261.03,309.46 L261.03,309.47 L262.25,309.47 L262.25,309.44 L263.48,309.44 L263.48,309.50 L264.70,309.50 L264.70,309.46 L265.92,309.46 L265.92,309.49 L267.14,309.49 L267.14,309.43 L268.36,309.43 L268.36,309.48 L269.58,309.48 L269.58,309.55 Z" fill="#3720b8" stroke="#1c0c78" stroke-width="0.55" stroke-linejoin="miter"/>
<path d="M181.68,309.55 V278.90 H269.58 V309.55" fill="none" stroke="#6e6e6e" stroke-width="1"/>
<line x1="181.18" y1="309.55" x2="270.08" y2="309.55" stroke="#4a3a94" stroke-width="1"/>
<line x1="225.63" y1="278.90" x2="225.63" y2="280.10" stroke="#6e6e6e" stroke-width="0.8"/>
<text x="225.28" y="273.65" font-size="12.0" font-weight="bold" text-anchor="middle" fill="#000" stroke="#000" style="stroke-width:0.3px">P</text>
<text x="176.38" y="283.25" font-size="11.5" text-anchor="end" fill="#262626" stroke="#262626">500</text>
<text x="176.38" y="313.90" font-size="11.5" text-anchor="end" fill="#262626" stroke="#262626">0</text>
<text x="181.18" y="326.55" font-size="11.5" text-anchor="middle" fill="#262626" stroke="#262626">-5</text>
<text x="225.13" y="326.55" font-size="11.5" text-anchor="middle" fill="#262626" stroke="#262626">0</text>
<text x="269.08" y="326.55" font-size="11.5" text-anchor="middle" fill="#262626" stroke="#262626">5</text>
<text x="225.28" y="342.65" font-size="13.2" text-anchor="middle" fill="#262626" stroke="#262626">z-score</text>
<text transform="translate(149.88,294.46) rotate(-90)" x="0" y="0" font-size="13.2" text-anchor="middle" fill="#262626" stroke="#262626">counts</text>
<path d="M318.61,309.55 L318.61,309.49 L319.83,309.49 L319.83,309.52 L321.05,309.52 L321.05,309.47 L322.27,309.47 L322.27,309.48 L323.49,309.48 L323.49,309.52 L324.71,309.52 L324.71,309.51 L325.94,309.51 L325.94,309.54 L327.16,309.54 L327.16,309.54 L328.38,309.54 L328.38,309.54 L329.60,309.54 L329.60,309.54 L330.82,309.54 L330.82,309.55 L332.04,309.55 L332.04,309.49 L333.26,309.49 L333.26,309.50 L334.48,309.50 L334.48,309.44 L335.70,309.44 L335.70,309.40 L336.92,309.40 L336.92,309.24 L338.14,309.24 L338.14,309.25 L339.36,309.25 L339.36,309.17 L340.59,309.17 L340.59,309.14 L341.81,309.14 L341.81,309.04 L343.03,309.04 L343.03,308.86 L344.25,308.86 L344.25,308.62 L345.47,308.62 L345.47,308.23 L346.69,308.23 L346.69,307.91 L347.91,307.91 L347.91,307.64 L349.13,307.64 L349.13,306.86 L350.35,306.86 L350.35,306.31 L351.57,306.31 L351.57,305.33 L352.79,305.33 L352.79,303.94 L354.01,303.94 L354.01,302.08 L355.24,302.08 L355.24,299.29 L356.46,299.29 L356.46,296.21 L357.68,296.21 L357.68,293.47 L358.90,293.47 L358.90,291.26 L360.12,291.26 L360.12,289.09 L361.34,289.09 L361.34,286.72 L362.56,286.72 L362.56,287.36 L363.78,287.36 L363.78,290.05 L365.00,290.05 L365.00,292.71 L366.22,292.71 L366.22,293.91 L367.44,293.91 L367.44,298.51 L368.66,298.51 L368.66,301.01 L369.88,301.01 L369.88,303.28 L371.11,303.28 L371.11,305.02 L372.33,305.02 L372.33,306.35 L373.55,306.35 L373.55,307.11 L374.77,307.11 L374.77,307.64 L375.99,307.64 L375.99,307.88 L377.21,307.88 L377.21,308.31 L378.43,308.31 L378.43,308.73 L379.65,308.73 L379.65,308.96 L380.87,308.96 L380.87,309.07 L382.09,309.07 L382.09,309.12 L383.31,309.12 L383.31,309.11 L384.54,309.11 L384.54,309.26 L385.76,309.26 L385.76,309.22 L386.98,309.22 L386.98,309.30 L388.20,309.30 L388.20,309.35 L389.42,309.35 L389.42,309.48 L390.64,309.48 L390.64,309.51 L391.86,309.51 L391.86,309.55 L393.08,309.55 L393.08,309.55 L394.30,309.55 L394.30,309.53 L395.52,309.53 L395.52,309.52 L396.74,309.52 L396.74,309.52 L397.96,309.52 L397.96,309.54 L399.19,309.54 L399.19,309.51 L400.41,309.51 L400.41,309.50 L401.63,309.50 L401.63,309.49 L402.85,309.49 L402.85,309.48 L404.07,309.48 L404.07,309.52 L405.29,309.52 L405.29,309.51 L406.51,309.51 L406.51,309.55 Z" fill="#3720b8" stroke="#1c0c78" stroke-width="0.55" stroke-linejoin="miter"/>
<path d="M318.61,309.55 V278.90 H406.51 V309.55" fill="none" stroke="#6e6e6e" stroke-width="1"/>
<line x1="318.11" y1="309.55" x2="407.01" y2="309.55" stroke="#4a3a94" stroke-width="1"/>
<line x1="362.56" y1="278.90" x2="362.56" y2="280.10" stroke="#6e6e6e" stroke-width="0.8"/>
<text x="362.21" y="273.65" font-size="12.0" font-weight="bold" text-anchor="middle" fill="#000" stroke="#000" style="stroke-width:0.3px">S</text>
<text x="313.31" y="283.25" font-size="11.5" text-anchor="end" fill="#262626" stroke="#262626">500</text>
<text x="313.31" y="313.90" font-size="11.5" text-anchor="end" fill="#262626" stroke="#262626">0</text>
<text x="318.11" y="326.55" font-size="11.5" text-anchor="middle" fill="#262626" stroke="#262626">-5</text>
<text x="362.06" y="326.55" font-size="11.5" text-anchor="middle" fill="#262626" stroke="#262626">0</text>
<text x="406.01" y="326.55" font-size="11.5" text-anchor="middle" fill="#262626" stroke="#262626">5</text>
<text x="362.21" y="342.65" font-size="13.2" text-anchor="middle" fill="#262626" stroke="#262626">z-score</text>
<text transform="translate(286.81,294.46) rotate(-90)" x="0" y="0" font-size="13.2" text-anchor="middle" fill="#262626" stroke="#262626">counts</text>
<path d="M455.54,309.55 L455.54,309.50 L456.76,309.50 L456.76,309.44 L457.98,309.44 L457.98,309.44 L459.20,309.44 L459.20,309.48 L460.42,309.48 L460.42,309.49 L461.64,309.49 L461.64,309.50 L462.87,309.50 L462.87,309.51 L464.09,309.51 L464.09,309.49 L465.31,309.49 L465.31,309.50 L466.53,309.50 L466.53,309.44 L467.75,309.44 L467.75,309.50 L468.97,309.50 L468.97,309.46 L470.19,309.46 L470.19,309.29 L471.41,309.29 L471.41,309.20 L472.63,309.20 L472.63,309.26 L473.85,309.26 L473.85,309.14 L475.07,309.14 L475.07,308.92 L476.29,308.92 L476.29,308.93 L477.52,308.93 L477.52,308.75 L478.74,308.75 L478.74,308.56 L479.96,308.56 L479.96,308.23 L481.18,308.23 L481.18,307.85 L482.40,307.85 L482.40,307.12 L483.62,307.12 L483.62,306.98 L484.84,306.98 L484.84,307.06 L486.06,307.06 L486.06,305.49 L487.28,305.49 L487.28,304.13 L488.50,304.13 L488.50,303.53 L489.72,303.53 L489.72,303.07 L490.94,303.07 L490.94,303.02 L492.17,303.02 L492.17,301.39 L493.39,301.39 L493.39,299.44 L494.61,299.44 L494.61,295.85 L495.83,295.85 L495.83,291.82 L497.05,291.82 L497.05,290.36 L498.27,290.36 L498.27,287.62 L499.49,287.62 L499.49,287.64 L500.71,287.64 L500.71,290.87 L501.93,290.87 L501.93,292.31 L503.15,292.31 L503.15,294.07 L504.37,294.07 L504.37,297.66 L505.59,297.66 L505.59,300.26 L506.82,300.26 L506.82,302.22 L508.04,302.22 L508.04,304.36 L509.26,304.36 L509.26,305.94 L510.48,305.94 L510.48,307.19 L511.70,307.19 L511.70,307.61 L512.92,307.61 L512.92,308.16 L514.14,308.16 L514.14,308.62 L515.36,308.62 L515.36,308.59 L516.58,308.59 L516.58,308.79 L517.80,308.79 L517.80,308.93 L519.02,308.93 L519.02,309.15 L520.24,309.15 L520.24,309.13 L521.47,309.13 L521.47,309.24 L522.69,309.24 L522.69,309.18 L523.91,309.18 L523.91,309.25 L525.13,309.25 L525.13,309.26 L526.35,309.26 L526.35,309.41 L527.57,309.41 L527.57,309.43 L528.79,309.43 L528.79,309.49 L530.01,309.49 L530.01,309.43 L531.23,309.43 L531.23,309.46 L532.45,309.46 L532.45,309.50 L533.67,309.50 L533.67,309.45 L534.89,309.45 L534.89,309.47 L536.12,309.47 L536.12,309.48 L537.34,309.48 L537.34,309.45 L538.56,309.45 L538.56,309.45 L539.78,309.45 L539.78,309.47 L541.00,309.47 L541.00,309.49 L542.22,309.49 L542.22,309.48 L543.44,309.48 L543.44,309.55 Z" fill="#3720b8" stroke="#1c0c78" stroke-width="0.55" stroke-linejoin="miter"/>
<path d="M455.54,309.55 V278.90 H543.44 V309.55" fill="none" stroke="#6e6e6e" stroke-width="1"/>
<line x1="455.04" y1="309.55" x2="543.94" y2="309.55" stroke="#4a3a94" stroke-width="1"/>
<line x1="499.49" y1="278.90" x2="499.49" y2="280.10" stroke="#6e6e6e" stroke-width="0.8"/>
<text x="499.14" y="273.65" font-size="12.0" font-weight="bold" text-anchor="middle" fill="#000" stroke="#000" style="stroke-width:0.3px">Se</text>
<text x="450.24" y="283.25" font-size="11.5" text-anchor="end" fill="#262626" stroke="#262626">500</text>
<text x="450.24" y="313.90" font-size="11.5" text-anchor="end" fill="#262626" stroke="#262626">0</text>
<text x="455.04" y="326.55" font-size="11.5" text-anchor="middle" fill="#262626" stroke="#262626">-5</text>
<text x="498.99" y="326.55" font-size="11.5" text-anchor="middle" fill="#262626" stroke="#262626">0</text>
<text x="542.94" y="326.55" font-size="11.5" text-anchor="middle" fill="#262626" stroke="#262626">5</text>
<text x="499.14" y="342.65" font-size="13.2" text-anchor="middle" fill="#262626" stroke="#262626">z-score</text>
<text transform="translate(423.74,294.46) rotate(-90)" x="0" y="0" font-size="13.2" text-anchor="middle" fill="#262626" stroke="#262626">counts</text>
<path d="M44.75,395.60 L44.75,395.21 L45.97,395.21 L45.97,395.29 L47.19,395.29 L47.19,395.28 L48.41,395.28 L48.41,395.25 L49.63,395.25 L49.63,395.08 L50.85,395.08 L50.85,395.03 L52.08,395.03 L52.08,394.96 L53.30,394.96 L53.30,394.99 L54.52,394.99 L54.52,394.96 L55.74,394.96 L55.74,394.92 L56.96,394.92 L56.96,394.93 L58.18,394.93 L58.18,394.92 L59.40,394.92 L59.40,395.03 L60.62,395.03 L60.62,395.08 L61.84,395.08 L61.84,394.91 L63.06,394.91 L63.06,394.94 L64.28,394.94 L64.28,394.92 L65.50,394.92 L65.50,394.93 L66.72,394.93 L66.72,394.92 L67.95,394.92 L67.95,394.96 L69.17,394.96 L69.17,394.69 L70.39,394.69 L70.39,394.69 L71.61,394.69 L71.61,394.51 L72.83,394.51 L72.83,394.46 L74.05,394.46 L74.05,394.37 L75.27,394.37 L75.27,394.12 L76.49,394.12 L76.49,393.66 L77.71,393.66 L77.71,393.17 L78.93,393.17 L78.93,392.11 L80.15,392.11 L80.15,390.44 L81.38,390.44 L81.38,387.48 L82.60,387.48 L82.60,383.17 L83.82,383.17 L83.82,379.02 L85.04,379.02 L85.04,371.92 L86.26,371.92 L86.26,370.25 L87.48,370.25 L87.48,368.84 L88.70,368.84 L88.70,368.58 L89.92,368.58 L89.92,370.46 L91.14,370.46 L91.14,375.10 L92.36,375.10 L92.36,378.95 L93.58,378.95 L93.58,383.48 L94.80,383.48 L94.80,387.46 L96.03,387.46 L96.03,391.13 L97.25,391.13 L97.25,392.26 L98.47,392.26 L98.47,392.92 L99.69,392.92 L99.69,393.71 L100.91,393.71 L100.91,394.23 L102.13,394.23 L102.13,394.47 L103.35,394.47 L103.35,394.59 L104.57,394.59 L104.57,394.76 L105.79,394.76 L105.79,394.87 L107.01,394.87 L107.01,394.79 L108.23,394.79 L108.23,394.92 L109.45,394.92 L109.45,394.90 L110.68,394.90 L110.68,395.09 L111.90,395.09 L111.90,395.15 L113.12,395.15 L113.12,395.14 L114.34,395.14 L114.34,395.18 L115.56,395.18 L115.56,395.33 L116.78,395.33 L116.78,395.36 L118.00,395.36 L118.00,395.33 L119.22,395.33 L119.22,395.43 L120.44,395.43 L120.44,395.41 L121.66,395.41 L121.66,395.30 L122.88,395.30 L122.88,395.29 L124.10,395.29 L124.10,395.30 L125.33,395.30 L125.33,395.39 L126.55,395.39 L126.55,395.29 L127.77,395.29 L127.77,395.38 L128.99,395.38 L128.99,395.32 L130.21,395.32 L130.21,395.39 L131.43,395.39 L131.43,395.30 L132.65,395.30 L132.65,395.60 Z" fill="#3720b8" stroke="#1c0c78" stroke-width="0.55" stroke-linejoin="miter"/>
<path d="M44.75,395.60 V364.95 H132.65 V395.60" fill="none" stroke="#6e6e6e" stroke-width="1"/>
<line x1="44.25" y1="395.60" x2="133.15" y2="395.60" stroke="#4a3a94" stroke-width="1"/>
<line x1="88.70" y1="364.95" x2="88.70" y2="366.15" stroke="#6e6e6e" stroke-width="0.8"/>
<text x="88.35" y="359.70" font-size="12.0" font-weight="bold" text-anchor="middle" fill="#000" stroke="#000" style="stroke-width:0.3px">Zn</text>
<text x="39.45" y="369.30" font-size="11.5" text-anchor="end" fill="#262626" stroke="#262626">500</text>
<text x="39.45" y="399.95" font-size="11.5" text-anchor="end" fill="#262626" stroke="#262626">0</text>
<text x="44.25" y="412.60" font-size="11.5" text-anchor="middle" fill="#262626" stroke="#262626">-5</text>
<text x="88.20" y="412.60" font-size="11.5" text-anchor="middle" fill="#262626" stroke="#262626">0</text>
<text x="132.15" y="412.60" font-size="11.5" text-anchor="middle" fill="#262626" stroke="#262626">5</text>
<text x="88.35" y="428.70" font-size="13.2" text-anchor="middle" fill="#262626" stroke="#262626">z-score</text>
<text transform="translate(12.95,380.51) rotate(-90)" x="0" y="0" font-size="13.2" text-anchor="middle" fill="#262626" stroke="#262626">counts</text>
</g></svg></body></html>
